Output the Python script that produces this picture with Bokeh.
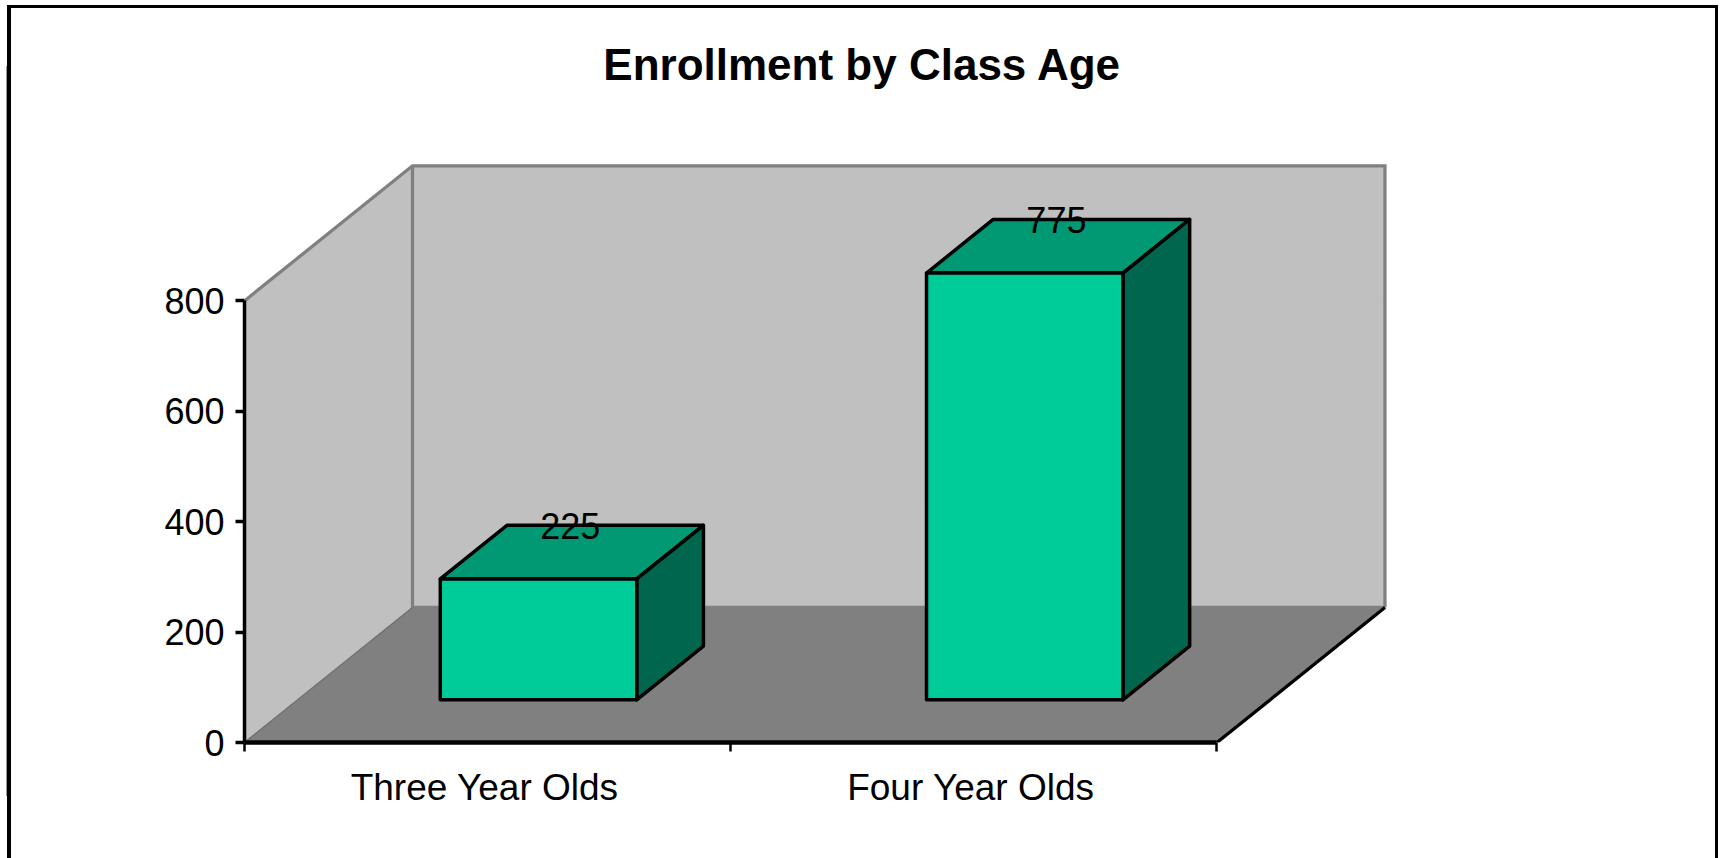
from bokeh.plotting import figure
from bokeh.embed import file_html
from bokeh.resources import INLINE
from bokeh.core.properties import value
from bokeh.models import Range1d, FixedTicker

# ---- data ----
title_text = "Enrollment by Class Age"
categories = ["Three Year Olds", "Four Year Olds"]
data_labels = [225, 775]          # printed on the chart
bar_heights = [219, 773]          # bar tops as read against the value axis
value_ticks = [0, 200, 400, 600, 800]

# ---- style / geometry ----
FONT = "Liberation Sans"
WALL, FLOOR, EDGE = "#C0C0C0", "#808080", "#808080"
FRONT, TOP, SIDE = "#00CC99", "#009973", "#00664D"
BAR_WIDTH = 0.404
BAR_CENTRE = 0.4955                # centre of a bar within its category slot
DEPTH_X, DEPTH_Y = 0.3455, 244.6   # shift of the full chart depth, in axis units
Z_FRONT, Z_BACK = 0.316, 0.713     # bar's place within the depth
Y_MAX = 800
N = len(categories)


def proj(x, v, z=0.0):
    return x + z * DEPTH_X, v + z * DEPTH_Y


# page frame (open at the bottom), painted behind the transparent canvas
frame_lines = {
    "background-image": ("linear-gradient(#000,#000),linear-gradient(#000,#000),"
                         "linear-gradient(#000,#000),linear-gradient(#999,#999)"),
    "background-size": "1710px 3px,4px 858px,3px 858px,1px 730px",
    "background-position": "7px 5px,7px 5px,1715px 5px,6px 66px",
    "background-repeat": "no-repeat",
}

p = figure(
    width=1725, height=858, styles=frame_lines,
    frame_width=1236, frame_height=652,
    min_border_left=244, min_border_right=245, min_border_top=90, min_border_bottom=116,
    x_range=Range1d(0, 2.5420), y_range=Range1d(0, 1181),
    output_backend="svg", toolbar_location=None, tools="",
    title=title_text, title_location="above",
)
p.title.align = "center"
p.title.text_font = FONT
p.title.text_font_size = "44px"
p.title.text_font_style = "bold"
p.title.text_color = "black"
p.title.standoff = 3
p.grid.visible = False
p.outline_line_color = None
p.background_fill_color = "white"
p.border_fill_color = None

# left wall, back wall, floor
corners = lambda pts: ([proj(*q)[0] for q in pts], [proj(*q)[1] for q in pts])
xs, ys = corners([(0, 0, 0), (0, Y_MAX, 0), (0, Y_MAX, 1), (0, 0, 1)])
p.patch(xs, ys, fill_color=WALL, line_color=None)
xs, ys = corners([(0, 0, 1), (0, Y_MAX, 1), (N, Y_MAX, 1), (N, 0, 1)])
p.patch(xs, ys, fill_color=WALL, line_color=None)
xs, ys = corners([(0, 0, 0), (0, 0, 1), (N, 0, 1), (N, 0, 0)])
p.patch(xs, ys, fill_color=FLOOR, line_color=None)

# wall edges
xs, ys = corners([(0, Y_MAX, 0), (0, Y_MAX, 1), (N, Y_MAX, 1), (N, 0, 1)])
p.line(xs, ys, line_color=EDGE, line_width=3.3, line_join="miter")
xs, ys = corners([(0, Y_MAX, 1), (0, 0, 1), (N, 0, 1)])
p.line(xs, ys, line_color=EDGE, line_width=3.3, line_join="miter")
xs, ys = corners([(0, 0, 0), (0, 0, 1)])
p.line(xs, ys, line_color="#707070", line_width=1.5)
xs, ys = corners([(N, 0, 0), (N, 0, 1)])
p.line(xs, ys, line_color="black", line_width=3.3)

# bars
for i, h in enumerate(bar_heights):
    l, r = i + BAR_CENTRE - BAR_WIDTH / 2, i + BAR_CENTRE + BAR_WIDTH / 2
    faces = [
        ([(l, h, Z_FRONT), (l, h, Z_BACK), (r, h, Z_BACK), (r, h, Z_FRONT)], TOP),
        ([(r, 0, Z_FRONT), (r, h, Z_FRONT), (r, h, Z_BACK), (r, 0, Z_BACK)], SIDE),
        ([(l, 0, Z_FRONT), (l, h, Z_FRONT), (r, h, Z_FRONT), (r, 0, Z_FRONT)], FRONT),
    ]
    for pts, colour in faces:
        xs, ys = corners(pts)
        p.patch(xs, ys, fill_color=colour, line_color="black", line_width=3.5, line_join="round")

# data labels
lx = [proj(i + BAR_CENTRE - 0.0035, h, (Z_FRONT + Z_BACK) / 2)[0] for i, h in enumerate(bar_heights)]
ly = [proj(i + BAR_CENTRE, h, Z_BACK)[1] - 1 for i, h in enumerate(bar_heights)]
p.text(lx, ly, text=[str(v) for v in data_labels], text_font=value(FONT), text_font_size=value("36px"),
       text_color="black", text_align="center", text_baseline="middle")

# axes
ya = p.yaxis[0]
ya.ticker = FixedTicker(ticks=value_ticks)
ya.bounds = (0, Y_MAX)
ya.axis_line_color = "black"
ya.axis_line_width = 3.5
ya.major_tick_line_color = "black"
ya.major_tick_line_width = 3.5
ya.major_tick_in = 0
ya.major_tick_out = 9
ya.minor_tick_line_color = None
ya.major_label_text_font = FONT
ya.major_label_text_font_size = "36px"
ya.major_label_text_color = "black"
ya.major_label_standoff = 11

xa = p.xaxis[0]
centres = [i + 0.494 for i in range(N)]
xa.ticker = FixedTicker(ticks=centres, minor_ticks=list(range(N + 1)))
xa.major_label_overrides = dict(zip(centres, categories))
xa.bounds = (0, N)
xa.axis_line_color = "black"
xa.axis_line_width = 4.5
xa.major_tick_line_color = None
xa.minor_tick_line_color = "black"
xa.minor_tick_line_width = 2.5
xa.minor_tick_in = 0
xa.minor_tick_out = 9
xa.major_label_text_font = FONT
xa.major_label_text_font_size = "37px"
xa.major_label_text_color = "black"
xa.major_label_standoff = 15

open("out.html", "w").write(file_html(p, INLINE))
